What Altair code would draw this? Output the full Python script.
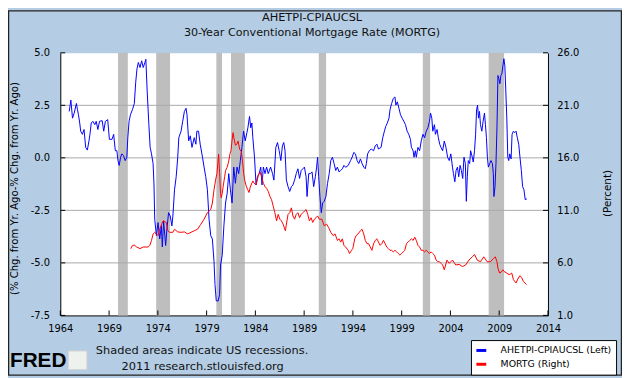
import altair as alt
import pandas as pd

# ---------------- data ----------------
blue_year = [1964.91, 1965.08, 1965.25, 1965.42, 1965.65, 1965.76, 1965.86, 1965.99, 1966.09, 1966.26,
             1966.43, 1966.60, 1966.77, 1966.94, 1967.04, 1967.17, 1967.34, 1967.54, 1967.68, 1967.85,
             1968.02, 1968.29, 1968.45, 1968.62, 1968.86, 1969.03, 1969.30, 1969.47, 1969.64, 1969.80,
             1969.91, 1970.04, 1970.18, 1970.31, 1970.48, 1970.65, 1970.82, 1970.92, 1971.05, 1971.19,
             1971.39, 1971.59, 1971.73, 1971.86, 1972.00, 1972.17, 1972.34, 1972.50, 1972.67, 1972.77,
             1972.91, 1973.08, 1973.21, 1973.35, 1973.51, 1973.60, 1973.68, 1973.85, 1974.02, 1974.19,
             1974.36, 1974.46, 1974.59, 1974.80, 1974.93, 1975.10, 1975.27, 1975.44, 1975.54, 1975.71,
             1975.88, 1976.04, 1976.15, 1976.38, 1976.55, 1976.72, 1976.89, 1976.99, 1977.16, 1977.33,
             1977.50, 1977.73, 1977.90, 1978.00, 1978.17, 1978.34, 1978.58, 1978.74, 1978.91, 1979.08,
             1979.25, 1979.42, 1979.59, 1979.76, 1979.86, 1979.99, 1980.19, 1980.33, 1980.43, 1980.60,
             1980.77, 1980.94, 1981.11, 1981.27, 1981.44, 1981.61, 1981.78, 1981.95, 1982.12, 1982.29,
             1982.46, 1982.62, 1982.79, 1982.96, 1983.13, 1983.23, 1983.40, 1983.53, 1983.64, 1983.74,
             1983.91, 1984.07, 1984.21, 1984.38, 1984.55, 1984.68, 1984.82, 1984.99, 1985.15, 1985.32,
             1985.56, 1985.76, 1985.90, 1986.10, 1986.27, 1986.44, 1986.61, 1986.77, 1986.91, 1987.04,
             1987.18, 1987.35, 1987.52, 1987.69, 1987.85, 1988.02, 1988.19, 1988.36, 1988.53, 1988.70,
             1988.87, 1989.03, 1989.20, 1989.30, 1989.47, 1989.64, 1989.81, 1989.98, 1990.15, 1990.28,
             1990.38, 1990.49, 1990.62, 1990.76, 1990.89, 1991.06, 1991.23, 1991.40, 1991.57, 1991.73,
             1991.90, 1992.07, 1992.24, 1992.41, 1992.58, 1992.75, 1992.92, 1993.08, 1993.25, 1993.52,
             1993.76, 1993.92, 1994.09, 1994.26, 1994.43, 1994.60, 1994.77, 1994.94, 1995.11, 1995.27,
             1995.38, 1995.51, 1995.68, 1995.88, 1996.12, 1996.29, 1996.46, 1996.62, 1996.89, 1997.06,
             1997.23, 1997.37, 1997.53, 1997.70, 1997.80, 1997.97, 1998.14, 1998.31, 1998.41, 1998.55,
             1998.72, 1998.88, 1999.05, 1999.22, 1999.39, 1999.56, 1999.73, 1999.90, 2000.00, 2000.17,
             2000.27, 2000.40, 2000.50, 2000.67, 2000.84, 2001.01, 2001.18, 2001.35, 2001.52, 2001.69,
             2001.85, 2001.96, 2002.09, 2002.19, 2002.36, 2002.46, 2002.63, 2002.76, 2002.90, 2003.03,
             2003.20, 2003.37, 2003.54, 2003.71, 2003.88, 2004.04, 2004.21, 2004.31, 2004.45, 2004.58,
             2004.72, 2004.85, 2004.99, 2005.12, 2005.26, 2005.39, 2005.53, 2005.63, 2005.73, 2005.83,
             2005.97, 2006.07, 2006.24, 2006.34, 2006.47, 2006.58, 2006.68, 2006.78, 2006.88, 2006.98,
             2007.08, 2007.22, 2007.35, 2007.49, 2007.59, 2007.69, 2007.79, 2007.89, 2008.03, 2008.16,
             2008.30, 2008.40, 2008.46, 2008.57, 2008.67, 2008.77, 2008.87, 2008.97, 2009.07, 2009.17,
             2009.27, 2009.38, 2009.48, 2009.58, 2009.68, 2009.78, 2009.88, 2009.98, 2010.08, 2010.22,
             2010.32, 2010.46, 2010.59, 2010.73, 2010.86, 2011.00, 2011.13, 2011.27, 2011.40, 2011.54,
             2011.67, 2011.84]
blue_val = [2.21, 2.75, 1.89, 2.13, 2.59, 2.29, 2.05, 1.66, 1.27, 1.12,
            1.35, 0.50, 0.37, 0.81, 1.12, 1.66, 1.74, 1.58, 1.74, 1.35,
            1.74, 1.77, 1.27, 1.74, 1.82, 0.88, 0.88, 1.12, 0.34, 0.34,
            -0.13, -0.36, 0.03, 0.19, 0.11, -0.13, 0.03, 0.96, 1.74, 2.05,
            2.29, 2.59, 3.60, 4.23, 4.54, 4.30, 4.62, 4.30, 4.54, 4.69,
            3.14, 1.58, 0.50, 0.19, -0.27, -1.20, -2.92, -3.70, -3.08, -3.86,
            -3.24, -4.24, -3.00, -4.17, -3.39, -2.61, -2.77, -3.24, -2.77, -1.52,
            -0.90, 0.03, 0.96, 1.27, 1.74, 2.21, 2.36, 2.05, 0.81, 1.05,
            0.50, 0.96, 0.65, 1.27, 1.27, 0.65, 0.03, -0.44, -0.90, -1.52,
            -2.92, -3.70, -3.86, -4.94, -6.03, -6.81, -6.81, -6.50, -5.10, -4.64,
            -3.24, -2.15, -1.68, -0.75, -1.52, -2.15, -0.44, -1.21, -0.44, -0.75,
            -0.13, 0.50, 1.27, 0.81, 1.20, 1.43, 1.97, 1.43, 1.66, 0.96,
            0.03, -1.29, -0.90, -0.75, -0.44, -1.29, -0.44, -0.75, -0.44, -0.75,
            -0.44, -0.75, -1.06, 0.50, 0.73, 0.34, -0.13, 0.57, 0.73, 0.34,
            -1.06, -1.37, -1.60, -1.37, -1.29, -1.06, -0.75, -0.52, -0.98, -0.60,
            -0.52, -0.44, -0.90, -1.84, -0.75, -0.75, -0.67, -1.37, -0.90, -0.44,
            0.03, -0.90, -1.84, -2.61, -2.15, -2.07, -1.84, -1.21, -0.75, -0.13,
            0.03, -0.27, -0.60, -0.44, -0.67, -0.60, -0.52, -0.36, -0.45, -0.36,
            -0.13, 0.03, 0.26, 0.19, -0.13, -0.27, -0.05, -0.27, -0.44, -0.52,
            -0.27, 0.19, 0.34, 0.42, 0.34, 0.57, 0.65, 0.42, 0.50, 0.96,
            1.27, 1.50, 1.66, 1.89, 2.28, 2.59, 2.83, 2.90, 2.51, 2.67,
            2.36, 2.05, 1.89, 1.74, 1.58, 1.27, 1.12, 0.88, 0.50, 0.34,
            0.03, 0.34, 0.03, 0.50, 0.34, 0.81, 1.12, 0.96, 1.27, 1.43,
            1.74, 2.13, 1.89, 1.27, 1.58, 1.12, 1.35, 0.96, 0.65, 0.50,
            0.34, 0.80, 0.50, 0.03, -0.13, 0.19, -0.44, -0.75, -1.14, -0.60,
            -0.44, -0.90, -0.36, -0.60, -0.98, 0.03, -0.27, -2.07, -0.90, -0.13,
            -0.27, 0.34, 0.03, -0.20, 0.34, 1.12, 2.28, 2.51, 1.89, 2.21,
            1.58, 1.27, 1.74, 2.13, 1.58, 0.96, 0.03, -0.44, -0.27, -0.13,
            -0.27, -0.75, -1.84, -1.37, -0.27, 1.43, 3.92, 3.77, 3.53, 3.92,
            4.00, 4.38, 4.72, 4.38, 3.14, 1.89, 0.03, -0.13, 0.19, -0.05,
            1.12, 1.27, 1.20, 1.27, 0.96, 0.65, 0.03, -0.60, -1.37, -1.52,
            -1.99, -1.95]

red_year = [1971.22, 1971.39, 1971.59, 1971.83, 1972.17, 1972.50, 1973.01, 1973.18, 1973.35, 1973.52,
            1973.68, 1973.85, 1974.02, 1974.19, 1974.53, 1974.86, 1975.03, 1975.20, 1975.54, 1975.71,
            1976.04, 1976.38, 1976.72, 1977.06, 1977.40, 1977.73, 1978.07, 1978.41, 1978.74, 1979.08,
            1979.42, 1979.59, 1979.76, 1979.92, 1980.06, 1980.23, 1980.33, 1980.43, 1980.50, 1980.60,
            1980.70, 1980.85, 1980.95, 1981.10, 1981.25, 1981.40, 1981.50, 1981.60, 1981.71, 1981.80,
            1981.95, 1982.10, 1982.22, 1982.40, 1982.56, 1982.69, 1982.80, 1982.90, 1983.03, 1983.20,
            1983.35, 1983.47, 1983.64, 1983.75, 1983.87, 1984.07, 1984.31, 1984.48, 1984.65, 1984.82,
            1984.99, 1985.15, 1985.32, 1985.49, 1985.66, 1985.83, 1986.00, 1986.17, 1986.34, 1986.51,
            1986.67, 1986.84, 1987.08, 1987.18, 1987.35, 1987.52, 1987.69, 1987.85, 1988.02, 1988.19,
            1988.36, 1988.53, 1988.70, 1988.87, 1989.03, 1989.20, 1989.37, 1989.54, 1989.71, 1989.88,
            1990.05, 1990.22, 1990.38, 1990.55, 1990.82, 1991.06, 1991.30, 1991.50, 1991.73, 1991.97,
            1992.17, 1992.41, 1992.58, 1992.75, 1992.92, 1993.08, 1993.25, 1993.52, 1993.65, 1993.86,
            1993.99, 1994.19, 1994.33, 1994.53, 1994.77, 1994.94, 1995.11, 1995.27, 1995.44, 1995.61,
            1995.78, 1995.95, 1996.12, 1996.29, 1996.46, 1996.62, 1996.79, 1996.96, 1997.13, 1997.30,
            1997.47, 1997.64, 1997.80, 1997.97, 1998.14, 1998.31, 1998.48, 1998.65, 1998.82, 1998.99,
            1999.16, 1999.32, 1999.49, 1999.66, 1999.83, 2000.00, 2000.17, 2000.34, 2000.50, 2000.67,
            2000.84, 2001.01, 2001.18, 2001.35, 2001.52, 2001.69, 2001.85, 2002.02, 2002.19, 2002.36,
            2002.53, 2002.70, 2002.87, 2003.03, 2003.20, 2003.37, 2003.64, 2003.88, 2004.21, 2004.55,
            2004.89, 2005.23, 2005.56, 2005.90, 2006.24, 2006.47, 2006.74, 2007.08, 2007.42, 2007.76,
            2008.09, 2008.43, 2008.60, 2008.77, 2008.87, 2009.04, 2009.27, 2009.38, 2009.51, 2009.78,
            2010.02, 2010.29, 2010.46, 2010.73, 2010.96, 2011.13, 2011.30, 2011.47, 2011.64, 2011.80]
red_val = [7.35, 7.66, 7.70, 7.51, 7.36, 7.51, 7.51, 7.67, 8.14, 8.76,
           8.91, 8.76, 8.60, 9.20, 10.00, 9.85, 9.06, 8.91, 8.91, 9.20,
           8.95, 8.91, 8.95, 8.76, 8.91, 9.06, 9.20, 9.68, 10.16, 10.78,
           11.08, 11.70, 12.96, 13.88, 14.50, 16.35, 14.60, 12.60, 12.20, 12.60,
           13.30, 14.20, 14.80, 15.10, 15.60, 16.40, 16.70, 17.60, 18.40, 17.90,
           17.20, 17.30, 17.60, 16.80, 16.60, 15.60, 14.50, 13.90, 13.40, 13.00,
           12.70, 13.20, 13.60, 13.80, 13.60, 13.42, 14.35, 14.66, 14.19, 13.57,
           13.26, 13.10, 12.80, 12.33, 12.02, 11.40, 10.78, 10.00, 10.62, 10.16,
           10.00, 9.69, 9.06, 9.69, 10.62, 10.78, 11.24, 10.47, 10.16, 10.62,
           10.78, 10.30, 10.62, 10.78, 10.93, 11.08, 10.62, 10.00, 10.30, 9.85,
           10.16, 10.30, 10.47, 10.16, 10.16, 9.53, 9.69, 9.38, 8.91, 8.60,
           8.76, 8.14, 8.29, 7.98, 8.29, 7.67, 7.51, 7.20, 6.89, 7.20,
           7.36, 8.29, 8.60, 8.76, 9.06, 9.20, 8.76, 8.14, 7.83, 7.83,
           7.51, 7.20, 7.83, 8.14, 8.29, 7.98, 7.67, 7.83, 8.14, 7.83,
           7.51, 7.36, 7.20, 7.20, 7.05, 7.20, 7.05, 6.89, 6.74, 6.89,
           7.05, 7.20, 7.83, 7.98, 8.14, 8.29, 8.14, 8.45, 8.14, 7.67,
           7.51, 7.20, 7.20, 7.05, 7.20, 7.05, 6.89, 7.05, 6.89, 6.74,
           6.27, 6.11, 6.11, 5.96, 5.80, 5.34, 6.27, 5.96, 6.27, 5.80,
           5.86, 5.65, 5.80, 6.27, 6.58, 6.80, 6.27, 6.11, 6.58, 6.11,
           6.11, 6.42, 6.58, 6.11, 5.50, 5.03, 5.18, 5.34, 5.18, 5.03,
           4.87, 5.03, 4.40, 4.09, 4.56, 4.78, 4.60, 4.25, 4.09, 3.94]

rec_start = [1969.92, 1973.83, 1980.00, 1981.50, 1990.50, 2001.17, 2007.92]
rec_end = [1970.92, 1975.25, 1980.58, 1982.92, 1991.25, 2001.92, 2009.50]

x_ticks = [1964, 1969, 1974, 1979, 1984, 1989, 1994, 1999, 2004, 2009, 2014]
left_ticks = [-7.5, -5.0, -2.5, 0.0, 2.5, 5.0]
right_ticks = [1.0, 6.0, 11.0, 16.0, 21.0, 26.0]
grid_vals = [-5.0, -2.5, 0.0, 2.5]

series_names = ["AHETPI-CPIAUCSL (Left)", "MORTG (Right)"]
series_colors = ["#0000FF", "#FF0000"]

title_lines = ["AHETPI-CPIAUCSL", "30-Year Conventional Mortgage Rate (MORTG)"]
left_title = "(% Chg. from Yr. Ago-% Chg. from Yr. Ago)"
right_title = "(Percent)"
footer_lines = ["Shaded areas indicate US recessions.", "2011 research.stlouisfed.org"]

# ---------------- layout ----------------
W, H = 494, 266
FONT = "DejaVu Sans"
BG = "#B4CDE4"

blue_df = pd.DataFrame({"year": blue_year, "v": blue_val, "s": series_names[0]})
red_df = pd.DataFrame({"year": red_year, "v": red_val, "s": series_names[1]})
rec_df = pd.DataFrame({"start": rec_start, "end": rec_end})

xscale = alt.Scale(domain=[1964, 2014], nice=False, zero=False)
lscale = alt.Scale(domain=[-7.5, 5.0], nice=False, zero=False)
rscale = alt.Scale(domain=[1.0, 26.0], nice=False, zero=False)
cscale = alt.Scale(domain=series_names, range=series_colors)

x_axis = alt.Axis(values=x_ticks, format="d", labelFlush=False, ticks=False, grid=False,
                  domainColor="black", domainWidth=1, labelFont=FONT, labelFontSize=10,
                  labelColor="black", labelPadding=8, title=None, labelOverlap=False)

left_axis = alt.Axis(values=left_ticks, ticks=False, grid=False, domainColor="black",
                     labelExpr="datum.value < 0 ? '-' + format(-datum.value, '.1f') : format(datum.value, '.1f')",
                     labelFont=FONT, labelFontSize=10, labelColor="black", labelPadding=11,
                     labelFlush=False, labelOverlap=False,
                     title=left_title, titleFont=FONT, titleFontSize=10.2, titleFontWeight="normal",
                     titleColor="black", titleX=-46, titleY=137, titleAngle=270,
                     titleAlign="center", titleBaseline="middle")

right_axis = alt.Axis(values=right_ticks, orient="right", ticks=False, grid=False,
                      domainColor="black", format=".1f", labelFont=FONT, labelFontSize=10,
                      labelColor="black", labelPadding=9, labelFlush=False, labelOverlap=False,
                      title=right_title, titleFont=FONT, titleFontSize=10.5, titleFontWeight="normal",
                      titleColor="black", titleX=60, titleY=142, titleAngle=270,
                      titleAlign="center", titleBaseline="middle")

legend = alt.Legend(orient="none", legendX=416, legendY=291, title=None, symbolType="stroke",
                    symbolStrokeWidth=3, symbolSize=100, labelFont=FONT, labelFontSize=9.5,
                    labelColor="black", strokeColor="black", fillColor="white", padding=4,
                    rowPadding=1, labelOffset=13, labelLimit=300)

rects = alt.Chart(rec_df).mark_rect(color="#BEBEBE").encode(
    x=alt.X("start:Q", scale=xscale, axis=x_axis), x2="end:Q",
    y=alt.value(0), y2=alt.value(H))

grid = alt.Chart(pd.DataFrame({"v": grid_vals})).mark_rule(color="#A9A9A9", strokeWidth=1).encode(
    y=alt.Y("v:Q", scale=lscale, axis=left_axis))

lt_df = pd.DataFrame({"v": left_ticks})
lticks = alt.Chart(lt_df).mark_rule(color="black").encode(
    y=alt.Y("v:Q", scale=lscale, axis=left_axis), x=alt.value(0), x2=alt.value(5))
rticks = alt.Chart(lt_df).mark_rule(color="black").encode(
    y=alt.Y("v:Q", scale=lscale, axis=left_axis), x=alt.value(W - 5), x2=alt.value(W))
xticks = alt.Chart(pd.DataFrame({"year": x_ticks})).mark_rule(color="black").encode(
    x=alt.X("year:Q", scale=xscale, axis=x_axis), y=alt.value(H - 5), y2=alt.value(H))

blue = alt.Chart(blue_df).mark_line(strokeWidth=1).encode(
    x=alt.X("year:Q", scale=xscale, axis=x_axis),
    y=alt.Y("v:Q", scale=lscale, axis=left_axis),
    color=alt.Color("s:N", scale=cscale, legend=legend))

red = alt.Chart(red_df).mark_line(strokeWidth=1).encode(
    x=alt.X("year:Q", scale=xscale, axis=x_axis),
    y=alt.Y("v:Q", scale=rscale, axis=right_axis),
    color=alt.Color("s:N", scale=cscale, legend=legend))


def txt(s, x, y, size=10, weight="normal", align="left", font=FONT, color="#111111"):
    return alt.Chart(pd.DataFrame({"t": [s]})).mark_text(
        font=font, fontSize=size, fontWeight=weight, align=align, baseline="middle", color=color
    ).encode(text="t:N", x=alt.value(x), y=alt.value(y))


t1 = txt(title_lines[0], 255, -35, size=11.5, align="center")
t2 = txt(title_lines[1], 255, -20, size=11.3, align="center")
f1 = txt(footer_lines[0], 36, 302, size=11.5)
f2 = txt(footer_lines[1], 62, 318, size=11.5)
fred = txt("FRED", -51, 312, size=21, weight="bold", font="Liberation Sans", color="black")
icon = alt.Chart(pd.DataFrame({"t": [0]})).mark_rect(fill="#EEF2EE", stroke="#D0D0D0").encode(
    x=alt.value(8), x2=alt.value(27), y=alt.value(302), y2=alt.value(321))
frame = alt.Chart(pd.DataFrame({"t": [0]})).mark_rect(filled=False, stroke="#222222", strokeWidth=1.5).encode(
    x=alt.value(-52.5), x2=alt.value(W + 74.5), y=alt.value(-42.5), y2=alt.value(H + 60.5))

left_group = alt.layer(rects, grid, lticks, rticks, xticks, blue)

chart = alt.layer(left_group, red, t1, t2, f1, f2, fred, icon, frame).resolve_scale(
    y="independent"
).properties(
    width=W, height=H,
    autosize=alt.AutoSizeParams(type="none"),
    padding={"left": 53, "top": 43, "right": 75, "bottom": 61},
    background=BG,
).configure_view(fill="white", stroke="transparent")

chart.save("out.html", embed_options={"renderer": "svg", "actions": False})
